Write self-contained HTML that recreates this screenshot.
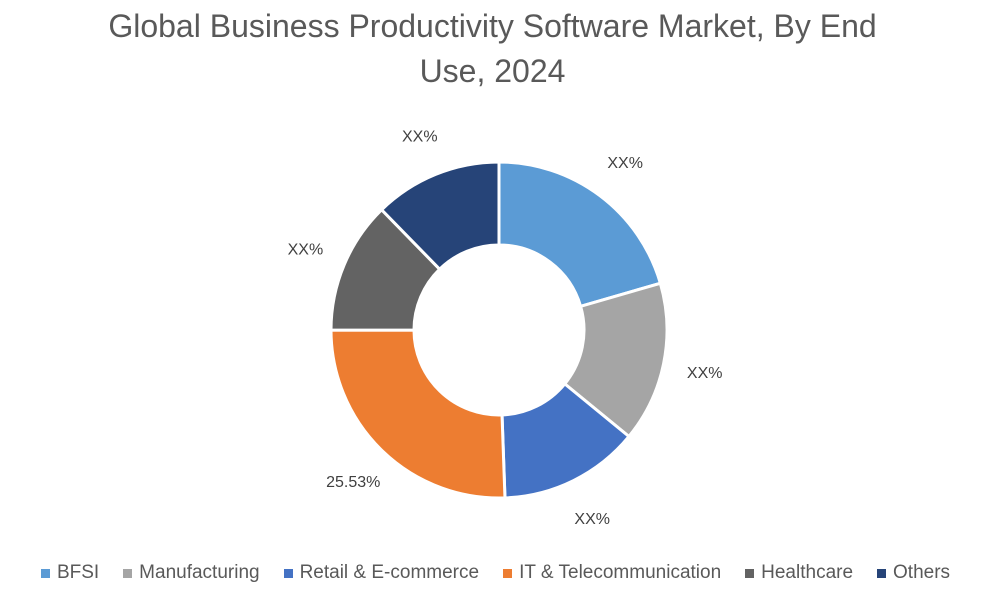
<!DOCTYPE html>
<html>
<head>
<meta charset="utf-8">
<style>
  html,body{margin:0;padding:0;background:#fff;}
  body{width:991px;height:600px;overflow:hidden;position:relative;font-family:"Liberation Sans",sans-serif;}
  #title{position:absolute;left:0;top:4px;width:985px;text-align:center;font-size:32px;line-height:45px;color:#595959;}
  #legend{position:absolute;left:0;top:562px;width:991px;display:flex;justify-content:center;font-size:19px;color:#595959;}
  .li{display:flex;align-items:center;margin:0 12px;}
  .sw{width:9px;height:9px;margin-right:7px;}
</style>
</head>
<body>
<div id="title">Global Business Productivity Software Market, By End<br>Use, 2024</div>
<svg id="chart" width="991" height="600" style="position:absolute;left:0;top:0"></svg>
<div id="legend"></div>
<script>
const categories = ["BFSI","Manufacturing","Retail & E-commerce","IT & Telecommunication","Healthcare","Others"];
const values = [20.5, 15.4, 13.5, 25.53, 12.7, 12.3];
const labels = ["XX%","XX%","XX%","25.53%","XX%","XX%"];
const colors = ["#5B9BD5","#A5A5A5","#4472C4","#ED7D31","#636363","#264478"];

const svg = document.getElementById('chart');
const NS = "http://www.w3.org/2000/svg";
const cx = 499, cy = 330, R = 168, r = 85, LR = 210;
const total = values.reduce((a,b)=>a+b,0);
function pt(ang, rad){ return [cx + rad*Math.sin(ang), cy - rad*Math.cos(ang)]; }
let a0 = 0;
values.forEach((v,i)=>{
  const a1 = a0 + v/total*2*Math.PI;
  const large = (a1-a0) > Math.PI ? 1 : 0;
  const [x0,y0]=pt(a0,R),[x1,y1]=pt(a1,R),[x2,y2]=pt(a1,r),[x3,y3]=pt(a0,r);
  const p = document.createElementNS(NS,'path');
  p.setAttribute('d',`M${x0},${y0} A${R},${R} 0 ${large} 1 ${x1},${y1} L${x2},${y2} A${r},${r} 0 ${large} 0 ${x3},${y3} Z`);
  p.setAttribute('fill',colors[i]);
  p.setAttribute('stroke','#fff');
  p.setAttribute('stroke-width','3');
  
  
  svg.appendChild(p);
  const mid = (a0+a1)/2;
  const [lx,ly] = pt(mid, LR);
  const t = document.createElementNS(NS,'text');
  t.setAttribute('x',lx); t.setAttribute('y',ly+6);
  t.setAttribute('text-anchor','middle');
  t.setAttribute('font-size','16');
  t.setAttribute('fill','#404040');
  t.setAttribute('font-family','Liberation Sans, sans-serif');
  t.textContent = labels[i];
  
  
  svg.appendChild(t);
  a0 = a1;
});

const leg = document.getElementById('legend');
categories.forEach((c,i)=>{
  const d = document.createElement('div');
  d.className='li';
  
  
  const s = document.createElement('span');
  s.className='sw'; s.style.background=colors[i];
  
  
  const l = document.createElement('span');
  l.textContent=c;
  
  
  d.appendChild(s); d.appendChild(l);
  leg.appendChild(d);
});
</script>
</body>
</html>
